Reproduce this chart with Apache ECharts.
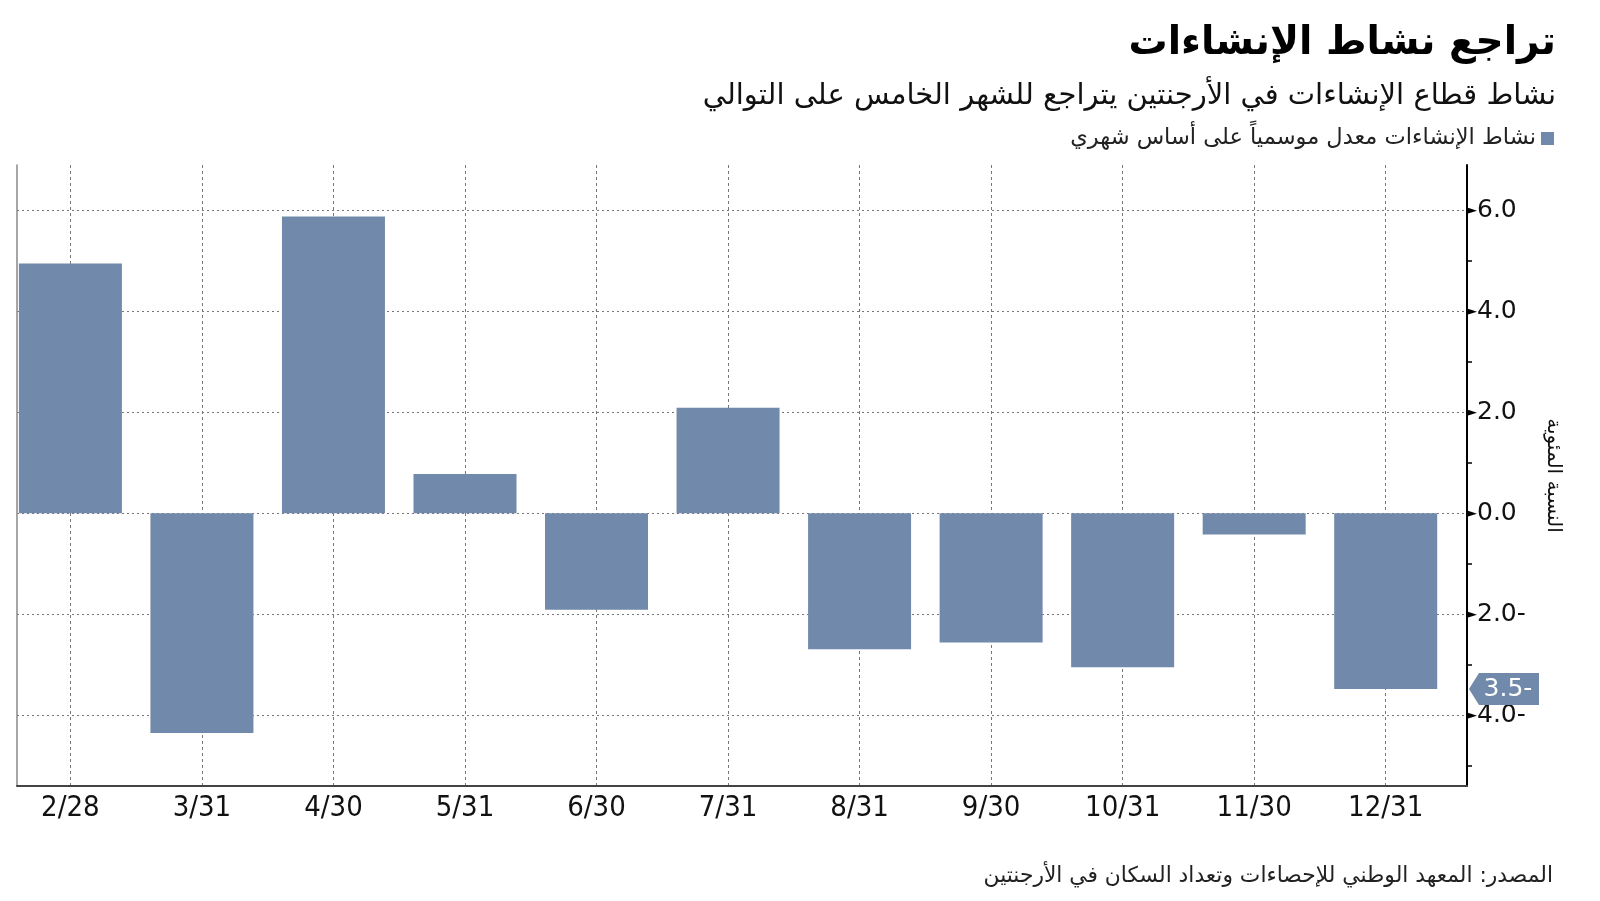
<!DOCTYPE html>
<html><head><meta charset="utf-8">
<script src="https://cdn.jsdelivr.net/npm/echarts@6/dist/echarts.min.js"></script>
<style>html,body{margin:0;padding:0;background:#fff;} #c{width:1600px;height:901px;}</style>
</head><body><div id="c"></div>
<script>
const titleText = 'تراجع نشاط الإنشاءات';
const subtitleText = 'نشاط قطاع الإنشاءات في الأرجنتين يتراجع للشهر الخامس على التوالي';
const seriesName = 'نشاط الإنشاءات معدل موسمياً على أساس شهري';
const sourceText = 'المصدر: المعهد الوطني للإحصاءات وتعداد السكان في الأرجنتين';
const yAxisName = 'النسبة المئوية';
const categories = ['2/28','3/31','4/30','5/31','6/30','7/31','8/31','9/30','10/31','11/30','12/31'];
const values = [4.95, -4.35, 5.88, 0.78, -1.91, 2.09, -2.69, -2.56, -3.05, -0.42, -3.48];
const yMajorTicks = [-4, -2, 0, 2, 4, 6];
const yMinorTicks = [-5, -3, -1, 1, 3, 5];
const yMin = -5.4, yMax = 6.9;

const BAR = '#7189aa';
const AR = 'DejaVu Sans';
const fmt = v => Math.abs(v).toFixed(1) + (v < 0 ? '-' : '');
const lastValue = values[values.length - 1];

const chart = echarts.init(document.getElementById('c'), null, {renderer: 'canvas'});
const gridTop = 165, gridBottom = 115;
chart.setOption({
  animation: false,
  backgroundColor: '#fff',
  title: [
    {text: titleText, right: 44, top: 24, padding: 0, textStyle: {fontFamily: AR, fontWeight: 'bold', fontSize: 39, color: '#000'}},
    {text: subtitleText, right: 44, top: 82, padding: 0, textStyle: {fontFamily: AR, fontWeight: 'normal', fontSize: 29, color: '#111'}},
    {text: sourceText, right: 47, top: 865, padding: 0, textStyle: {fontFamily: AR, fontWeight: 'normal', fontSize: 21.8, color: '#222'}}
  ],
  legend: {
    right: 46, top: 127, padding: 0, align: 'right', icon: 'rect', itemWidth: 13, itemHeight: 13, itemGap: 6,
    textStyle: {fontFamily: AR, fontSize: 22.5, color: '#222'},
    data: [seriesName]
  },
  grid: [
    {left: 17, right: 133, top: gridTop, bottom: gridBottom},
    {left: 70.4, right: 214.3, top: gridTop, bottom: gridBottom}
  ],
  xAxis: [
    {gridIndex: 0, type: 'value', min: 0, max: 1,
     axisLine: {show: true, onZero: false, lineStyle: {color: '#444', width: 2}},
     axisTick: {show: false}, axisLabel: {show: false}, splitLine: {show: false}},
    {gridIndex: 1, type: 'category', data: categories, boundaryGap: false,
     axisLine: {show: false, onZero: false}, axisTick: {show: false},
     axisLabel: {margin: 8, fontFamily: 'DejaVu Sans Condensed, DejaVu Sans', fontSize: 29, color: '#111'},
     splitLine: {show: true, lineStyle: {color: '#777', type: [3, 3], width: 1}}}
  ],
  yAxis: [
    {gridIndex: 0, type: 'value', position: 'left', min: yMin, max: yMax,
     axisLine: {show: true, onZero: false, lineStyle: {color: '#888', width: 1.5}},
     axisTick: {show: false}, axisLabel: {show: false},
     splitLine: {show: true, showMinLine: false, showMaxLine: false, lineStyle: {color: '#777', type: [2, 3], width: 1}}},
    {gridIndex: 0, type: 'value', position: 'right', min: yMin, max: yMax,
     name: yAxisName, nameLocation: 'middle', nameRotate: -90, nameGap: 76,
     nameTextStyle: {fontFamily: AR, fontSize: 20, color: '#111'},
     axisLine: {show: true, onZero: false, lineStyle: {color: '#000', width: 2}},
     axisTick: {show: false, customValues: yMajorTicks},
     axisLabel: {show: true, margin: 0, customValues: yMajorTicks,
       formatter: v => '{t|►}{v|' + fmt(v) + '}',
       rich: {t: {fontSize: 13, color: '#000', fontFamily: 'DejaVu Sans'},
              v: {fontSize: 25, color: '#111', fontFamily: 'DejaVu Sans'}}},
     splitLine: {show: false}},
    {gridIndex: 0, type: 'value', position: 'right', min: yMin, max: yMax,
     axisLine: {show: false, onZero: false},
     axisTick: {show: true, length: 5, customValues: yMinorTicks, lineStyle: {color: '#000', width: 1.5}},
     axisLabel: {show: false}, splitLine: {show: false}},
    {gridIndex: 1, type: 'value', min: yMin, max: yMax, show: false}
  ],
  series: [
    {name: seriesName, type: 'bar', xAxisIndex: 1, yAxisIndex: 3, data: values, barWidth: 103,
     clip: false, itemStyle: {color: BAR}, z: 3},
    {type: 'scatter', xAxisIndex: 0, yAxisIndex: 1, clip: false, silent: true, z: 5,
     data: [[1, lastValue]],
     symbol: 'path://M0,16 L10,0 L70,0 L70,32 L10,32 Z', symbolKeepAspect: false,
     symbolSize: [70, 32], symbolOffset: [37, 0], itemStyle: {color: BAR, opacity: 1},
     label: {show: true, position: 'inside', offset: [4, 0], formatter: p => fmt(p.value[1]),
       color: '#fff', fontSize: 25, fontFamily: 'DejaVu Sans'}}
  ]
});
</script></body></html>
